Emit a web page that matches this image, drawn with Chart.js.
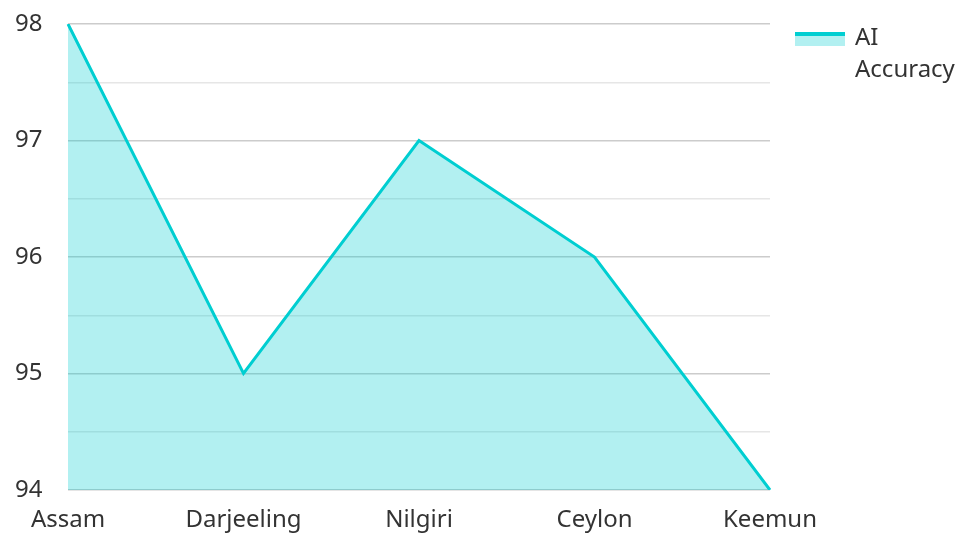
<!DOCTYPE html>
<html>
<head>
<meta charset="utf-8">
<script src="https://cdn.jsdelivr.net/npm/chart.js@4/dist/chart.umd.min.js"></script>
<style>
  html, body { margin: 0; padding: 0; background: #fff; }
  #wrap { position: relative; width: 960px; height: 534px; }
  #legend { position: absolute; left: 795px; top: 20px; font-family: 'Noto Sans', sans-serif; font-size: 24px; color: #333; }
  #legend .sw { position: absolute; left: 0; top: 12px; width: 50px; height: 10px; border-top: 4px solid #00CED1; background: rgba(0, 206, 209, 0.3); }
  #legend .tx { position: absolute; left: 60px; top: 0; width: 120px; line-height: 32px; }
</style>
</head>
<body>
<div id="wrap">
  <canvas id="chart_1" width="960" height="534"></canvas>
  <div id="legend"></div>
</div>
<script>
var categories = ["Assam", "Darjeeling", "Nilgiri", "Ceylon", "Keemun"];
var accuracy = [98, 95, 97, 96, 94];
var seriesName = "AI Accuracy";

var lineColor = "#00CED1";
var fillColor = "rgba(0, 206, 209, 0.3)";

var ctx1 = document.getElementById("chart_1").getContext("2d");
var chart1 = new Chart(ctx1, {
    type: 'line',
    data: {
        labels: categories,
        datasets: [{
            label: seriesName,
            data: accuracy,
            borderColor: lineColor,
            backgroundColor: fillColor,
            borderWidth: 3,
            fill: 'origin',
            tension: 0,
            pointRadius: 0,
            pointHoverRadius: 0
        }]
    },
    options: {
        responsive: false,
        animation: false,
        layout: {
            padding: { left: 15, right: 190, top: 24, bottom: 0 }
        },
        plugins: {
            legend: { display: false },
            tooltip: { enabled: false }
        },
        scales: {
            x: {
                grid: { display: false },
                border: { display: false },
                ticks: {
                    color: '#333',
                    padding: 8,
                    maxRotation: 0,
                    font: { family: "'Noto Sans'", size: 24 }
                },
                afterFit: function (scale) { scale.height = 44; }
            },
            y: {
                min: 94,
                max: 98,
                border: { display: false },
                grid: {
                    drawTicks: false,
                    lineWidth: 1.5,
                    color: function (c) {
                        return Number.isInteger(c.tick.value) ? '#cccccc' : '#e6e6e6';
                    }
                },
                ticks: {
                    stepSize: 0.5,
                    crossAlign: 'far',
                    color: '#333',
                    font: { family: "'Noto Sans'", size: 24 },
                    callback: function (v) { return Number.isInteger(v) ? v : ''; }
                },
                afterFit: function (scale) { scale.width = 53; }
            }
        }
    }
});

document.getElementById("legend").innerHTML =
    '<div class="sw"></div><div class="tx">' + seriesName.replace(' ', '<br>') + '</div>';
</script>
</body>
</html>
